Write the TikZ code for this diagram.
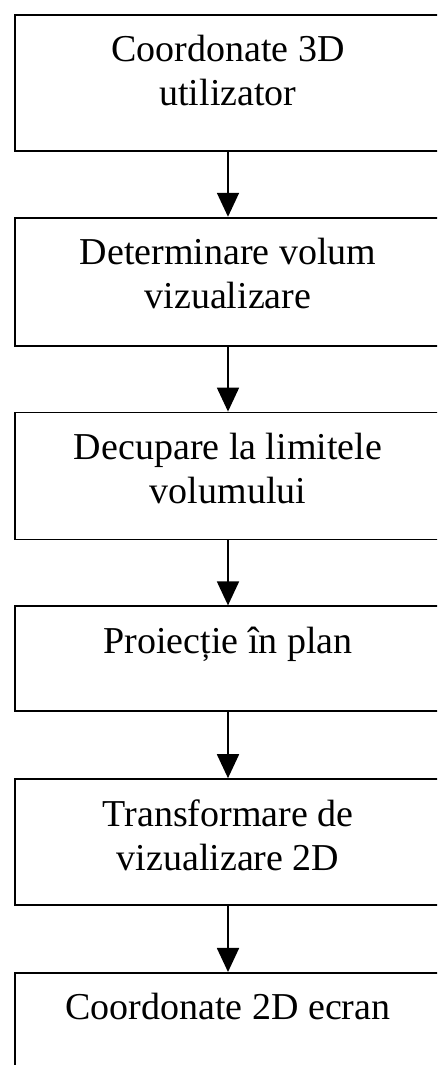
\documentclass[tikz,border=0pt]{standalone}
\usepackage{fontspec}
\setmainfont{Liberation Serif}
\usetikzlibrary{arrows.meta,positioning}

\begin{document}
\begin{tikzpicture}[x=1pt, y=1pt,
  box/.style={draw, line width=1.8pt, minimum width=426pt, inner sep=0pt},
  lbl/.style={anchor=north, align=center, inner sep=0pt, yshift=-21pt,
    font=\fontsize{38}{44}\selectfont},
  flow/.style={-{Triangle[length=24pt, width=22pt]}, line width=1.8pt}]
  \clip (0,0) rectangle (437,1065);

  % Stages
  \node[box, minimum height=136pt, anchor=north,
    label={[lbl]north:Coordonate 3D\\utilizator}] (user) at (228,1051) {};
  \node[box, minimum height=128pt, below=65pt of user,
    label={[lbl]north:Determinare volum\\vizualizare}] (volume) {};
  \node[box, minimum height=127pt, below=65pt of volume,
    label={[lbl]north:Decupare la limitele\\volumului}] (clipping) {};
  \node[box, minimum height=105pt, below=65pt of clipping,
    label={[lbl]north:Proiecție în plan}] (projection) {};
  \node[box, minimum height=126pt, below=66pt of projection,
    label={[lbl]north:Transformare de\\vizualizare 2D}] (viewport) {};
  \node[box, minimum height=130pt, below=66pt of viewport,
    label={[lbl]north:Coordonate 2D ecran}] (screen) {};

  % Connectors
  \draw[flow] (user) -- (volume);
  \draw[flow] (volume) -- (clipping);
  \draw[flow] (clipping) -- (projection);
  \draw[flow] (projection) -- (viewport);
  \draw[flow] (viewport) -- (screen);
\end{tikzpicture}
\end{document}
